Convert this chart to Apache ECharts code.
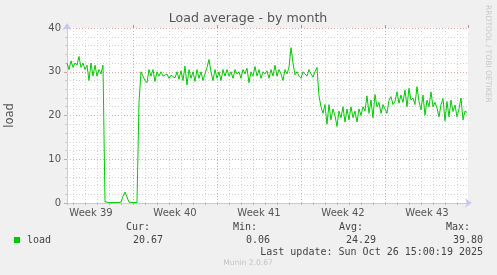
<!DOCTYPE html>
<html><head><meta charset="utf-8">
<script src="https://cdn.jsdelivr.net/npm/echarts@6/dist/echarts.min.js"></script>
<style>html,body{margin:0;padding:0;background:#f0f0f0}#c{width:497px;height:275px}</style>
</head><body><div id="c"></div>
<script>
// x is measured in days since Monday of Week 39; samples every 4 hours
const startDay = 1.5;
const stepDays = 4 / 24;
const axisMinDay = 1.5;
const axisMaxDay = 34.9167;
const firstWeek = 39;
const weekLabels = ['Week 39', 'Week 40', 'Week 41', 'Week 42', 'Week 43'];
const yTicks = [0, 10, 20, 30, 40];

const loadA = [32, 30.5, 32.5, 31, 32, 31.5, 33.5, 31, 32, 30.5, 31.5, 28, 32, 29, 31.5, 29, 30.5, 29.5, 31.5,
  0.3, 0.1, 0.1, 0.1, 0.1, 0.1, 0.1, 0.1, 0.2, 1.5, 2.5, 2.2, 0.2, 0.1, 0.1, 0.1, 0.1, 23, 30];
const loadB = [30, 28, 27.5, 30.5, 29, 30.5, 27.8, 30, 29, 30, 29, 28.8, 29.5, 28.5, 29.2, 29.5, 28.6, 30, 28.3, 30.2,
  28, 31.3, 27, 30.5, 28.5, 30, 27.8, 30.5, 28.5, 30, 28, 29.5, 31, 32.8, 30, 28, 30.5, 28.5, 30, 28, 30.5];
const loadC = [29, 30.5, 29, 30, 28.5, 30.5, 29.5, 30, 28.5, 30.5, 29.5, 30.8, 27.5, 30, 29, 31.2, 29, 30.5, 28.5, 30,
  29.5, 30.2, 28.5, 30.5, 29, 31.5, 29, 30.5, 29.5, 28, 30.5, 29.5, 31, 35.5, 32, 29.3, 30, 29, 28.5, 30];
const loadD = [29.5, 29, 30.5, 29.5, 28.8, 30, 31, 24.5, 22, 20.5, 22.5, 18, 22.5, 19, 21.5, 20, 17.5, 21, 19.5, 22,
  18.5, 21.5, 19, 22, 19.5, 21, 18.5, 21.5, 20, 22, 21, 24.5, 20.5, 23.5, 19.5, 24.8, 22, 23, 20.5, 22.5];
const loadE = [21.5, 20.5, 23.5, 24.3, 22.5, 23.2, 25.4, 22.8, 24.7, 23, 25.8, 22, 26.2, 23.5, 24, 22.5, 26.6, 23.2, 21.3, 24.7,
  20.1, 23.5, 22, 25.4, 22, 23, 21.7, 19.7, 22.5, 23.9, 18.8, 23.2, 19.7, 23.5, 20.9, 22.4, 19.7, 21.5, 24, 19, 21, 20.7];

const statNames = ['Cur:', 'Min:', 'Avg:', 'Max:'];
const statValues = ['20.67', '0.06', '24.29', '39.80'];
const seriesName = 'load';
const lastUpdate = 'Last update: Sun Oct 26 15:00:19 2025';

const loadValues = [].concat(loadA, loadB, loadC, loadD, loadE);
const seriesData = loadValues.map((v, i) => [startDay + i * stepDays, v]);

const mono = 'DejaVu Sans Mono';
const sans = 'DejaVu Sans';
const green = '#00cc00';
const axisBlue = '#c8c8f4';
const minorCol = '#d4d4d4';
const majorCol = '#e8a8a8';

const chart = echarts.init(document.getElementById('c'), null, {renderer: 'canvas'});

const statX = [150, 257, 363, 470];
const valX = [163, 270, 376, 483];
const graphics = [
  {type: 'text', x: 248, y: 19, style: {text: 'Load average - by month', font: '12.6px ' + sans, fill: '#555', textAlign: 'center', textVerticalAlign: 'middle'}},
  {type: 'text', x: 488, y: 5, rotation: -Math.PI / 2, style: {text: 'RRDTOOL / TOBI OETIKER', font: '7.6px ' + sans, fill: '#c8c8c8', textAlign: 'left', textVerticalAlign: 'middle'}},
  {type: 'rect', shape: {x: 14, y: 237, width: 6, height: 6}, style: {fill: green}},
  {type: 'text', x: 27, y: 240, style: {text: seriesName, font: '10px ' + mono, fill: '#444', textVerticalAlign: 'middle'}},
  {type: 'text', x: 483, y: 252, style: {text: lastUpdate, font: '10px ' + mono, fill: '#444', textAlign: 'right', textVerticalAlign: 'middle'}},
  {type: 'text', x: 248, y: 263, style: {text: 'Munin 2.0.67', font: '7.6px ' + sans, fill: '#c4c4c4', textAlign: 'center', textVerticalAlign: 'middle'}}
];
statNames.forEach((n, i) => {
  graphics.push({type: 'text', x: statX[i], y: 227, style: {text: n, font: '10px ' + mono, fill: '#444', textAlign: 'right', textVerticalAlign: 'middle'}});
  graphics.push({type: 'text', x: valX[i], y: 240, style: {text: statValues[i], font: '10px ' + mono, fill: '#444', textAlign: 'right', textVerticalAlign: 'middle'}});
});

chart.setOption({
  animation: false,
  backgroundColor: '#f0f0f0',
  grid: {left: 67, top: 28, width: 401, height: 175, show: true, backgroundColor: '#ffffff', borderWidth: 0,
    containLabel: false, outerBoundsMode: 'none'},
  xAxis: [
    { // data / day axis
      type: 'value', min: axisMinDay, max: axisMaxDay, splitNumber: 34, minInterval: 1, maxInterval: 1,
      axisLine: {show: true, onZero: false, lineStyle: {color: axisBlue, width: 1}, symbol: ['none', 'arrow'], symbolSize: [7, 7], symbolOffset: [0, 4]},
      axisTick: {show: true, length: 2, lineStyle: {color: '#bbbbbb'}},
      axisLabel: {show: false},
      splitLine: {show: true, showMinLine: false, showMaxLine: false, lineStyle: {color: minorCol, type: [1, 2], width: 1}}
    },
    { // week grid axis
      type: 'value', min: axisMinDay / 7, max: axisMaxDay / 7, splitNumber: 5, minInterval: 1, maxInterval: 1,
      axisLine: {show: false, onZero: false},
      axisTick: {show: true, length: 3, lineStyle: {color: '#e08080'}},
      axisLabel: {show: false},
      splitLine: {show: true, showMinLine: false, showMaxLine: false, lineStyle: {color: majorCol, type: [1, 2], width: 1}}
    },
    { // week label axis: tick k is the centre of week firstWeek + k
      type: 'value', min: axisMinDay / 7 - 0.5, max: axisMaxDay / 7 - 0.5, splitNumber: 5, minInterval: 1, maxInterval: 1,
      position: 'bottom', offset: 0,
      axisLine: {show: false, onZero: false}, axisTick: {show: false}, splitLine: {show: false},
      axisLabel: {show: true, showMinLabel: false, showMaxLabel: false, margin: 5, color: '#555', fontFamily: sans, fontSize: 10,
        formatter: v => (Number.isInteger(v) && v >= 0 && v < weekLabels.length) ? weekLabels[v] : ''}
    }
  ],
  yAxis: {
    type: 'value', min: yTicks[0], max: yTicks[yTicks.length - 1], interval: 10,
    name: 'load', nameLocation: 'middle', nameGap: 51, nameRotate: 90,
    nameTextStyle: {color: '#555', fontFamily: sans, fontSize: 11.5},
    axisLine: {show: true, onZero: false, lineStyle: {color: axisBlue, width: 1}, symbol: ['none', 'arrow'], symbolSize: [7, 7], symbolOffset: [0, 5]},
    axisTick: {show: true, length: 3, lineStyle: {color: '#e0a0a0'}},
    axisLabel: {color: '#555', fontFamily: sans, fontSize: 10, margin: 6},
    splitLine: {show: true, showMinLine: false, lineStyle: {color: majorCol, type: [1, 2], width: 1}},
    minorTick: {show: true, splitNumber: 5, length: 2, lineStyle: {color: '#cccccc'}},
    minorSplitLine: {show: true, lineStyle: {color: minorCol, type: [1, 2], width: 1}}
  },
  series: [{
    name: seriesName, type: 'line', xAxisIndex: 0, data: seriesData, showSymbol: false, symbol: 'none',
    lineStyle: {color: green, width: 1}, z: 5
  }],
  graphic: graphics
});
</script></body></html>
